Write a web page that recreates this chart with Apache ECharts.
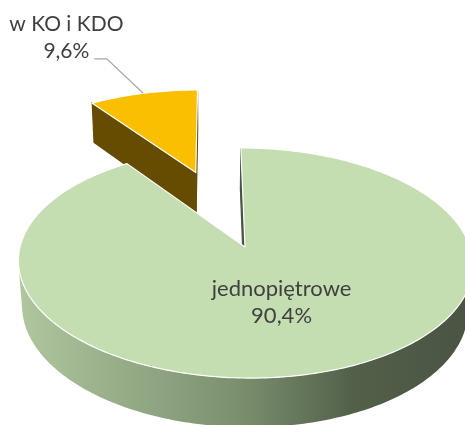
<!DOCTYPE html>
<html><head><meta charset="utf-8">
<script src="https://cdn.jsdelivr.net/npm/echarts@6/dist/echarts.min.js"></script>
<style>html,body{margin:0;padding:0;background:#fff}#c{width:465px;height:425px}</style>
</head><body><div id="c"></div>
<script>
// ---- data ----
const categories = ['jednopiętrowe', 'w KO i KDO'];
const values = [90.4, 9.6];
const valueLabels = ['90,4%', '9,6%'];
const explode = [0, 0.76];

// ---- styles ----
const topColors = ['#c4deb2', '#fabf00'];
const cutColors = ['#4a5444', '#654c00'];
const sideGradientStops = [
  {offset: 0, color: '#afc69e'},
  {offset: 0.5, color: '#7a8e6d'},
  {offset: 0.75, color: '#526049'},
  {offset: 1, color: '#4a5444'}
];
const FONT = '22px Lato';
const FONT_SMALL = '21px Lato';
const TEXT_COLOR = '#404040';

// ---- 3D projection (perspective) ----
const E = 30.1 * Math.PI / 180, SE = Math.sin(E), CE = Math.cos(E);
const D = 6.22, K = 225, CX = 211.25, CY = 247, CAMX = -0.15, H = 0.235;
const CAM = [CAMX, D * CE, D * SE];
function proj(X, Y, Z) {
  const w = Y * CE + Z * SE, v = Y * SE - Z * CE, s = D / (D - w);
  return [CX + K * (X - CAMX) * s, CY + K * v * s];
}
const total = values.reduce((a, b) => a + b, 0);
const starts = []; let acc = 0;
values.forEach(v => { starts.push(acc / total * 360); acc += v; });

function renderItem(params, api) {
  const i = params.dataIndex;
  const a1 = starts[i], a2 = a1 + api.value(0) / total * 360;
  const midDeg = (a1 + a2) / 2, mid = midDeg * Math.PI / 180;
  const ox = explode[i] * Math.sin(mid), oy = -explode[i] * Math.cos(mid);
  const rim = (a, Z) => { const r = a * Math.PI / 180; return proj(ox + Math.sin(r), oy - Math.cos(r), Z); };
  const apex = Z => proj(ox, oy, Z);
  const base = Math.round(100 + 50 * (oy - Math.cos(mid) * 0.5));
  const children = [];
  const steps = Math.max(2, Math.ceil(a2 - a1));
  const angs = []; for (let k = 0; k <= steps; k++) angs.push(a1 + (a2 - a1) * k / steps);

  // outer side (visible parts only)
  const vis = a => { const r = a * Math.PI / 180; const X = ox + Math.sin(r), Y = oy - Math.cos(r);
    return Math.sin(r) * (CAM[0] - X) - Math.cos(r) * (CAM[1] - Y) > 0; };
  let seg = [];
  const segs = [];
  angs.forEach(a => { if (vis(a)) seg.push(a); else { if (seg.length > 1) segs.push(seg); seg = []; } });
  if (seg.length > 1) segs.push(seg);
  segs.forEach(sg => {
    const pts = sg.map(a => rim(a, 0)).concat(sg.slice().reverse().map(a => rim(a, -H)));
    children.push({type: 'polygon', z2: base + 1, shape: {points: pts},
      style: {fill: i === 0 ? new echarts.graphic.LinearGradient(20, 0, 465, 0, sideGradientStops, true) : cutColors[i], stroke: null}});
  });
  // cut faces
  [[a1, -1], [a2, 1]].forEach(([a, sgn]) => {
    const r = a * Math.PI / 180;
    const n = [sgn * Math.cos(r), sgn * Math.sin(r)];
    const d = n[0] * (CAM[0] - ox) + n[1] * (CAM[1] - oy);
    if (d > 0) {
      children.push({type: 'polygon', z2: base + 2,
        shape: {points: [apex(0), rim(a, 0), rim(a, -H), apex(-H)]},
        style: {fill: cutColors[i], stroke: cutColors[i], lineWidth: 1.2}});
    }
  });
  // top face
  const topPts = [apex(0)].concat(angs.map(a => rim(a, 0)));
  children.push({type: 'polygon', z2: base + 3, shape: {points: topPts},
    style: {fill: topColors[i], stroke: '#ffffff', lineWidth: 1.2, lineJoin: 'round'}});

  // labels
  if (explode[i] === 0) {
    const r = 0.48;
    const p = proj(ox + r * Math.sin(mid), oy - r * Math.cos(mid), 0);
    children.push({type: 'text', z2: 500, x: p[0], y: p[1],
      style: {text: categories[i] + '\n' + valueLabels[i], fill: TEXT_COLOR, font: FONT,
        align: 'center', verticalAlign: 'middle', lineHeight: 27}});
  } else {
    const anc = rim(midDeg, 0);
    const elbow = [anc[0] - 36.5, anc[1] - 34.5];
    const end = [elbow[0] - 12.4, elbow[1]];
    children.push({type: 'polyline', z2: 499, shape: {points: [anc, elbow, end]},
      style: {stroke: '#a6a6a6', lineWidth: 1.2, fill: null}});
    children.push({type: 'text', z2: 500, x: end[0] - 28, y: end[1] - 21.5,
      style: {text: categories[i] + '\n' + valueLabels[i], fill: TEXT_COLOR, font: FONT_SMALL,
        align: 'center', verticalAlign: 'middle', lineHeight: 27}});
  }
  return {type: 'group', children};
}

const chart = echarts.init(document.getElementById('c'), null, {renderer: 'canvas'});
chart.setOption({
  animation: false,
  series: [{
    type: 'custom',
    coordinateSystem: 'none',
    renderItem,
    silent: true,
    data: values.map(v => [v])
  }]
});
</script>
</body></html>
